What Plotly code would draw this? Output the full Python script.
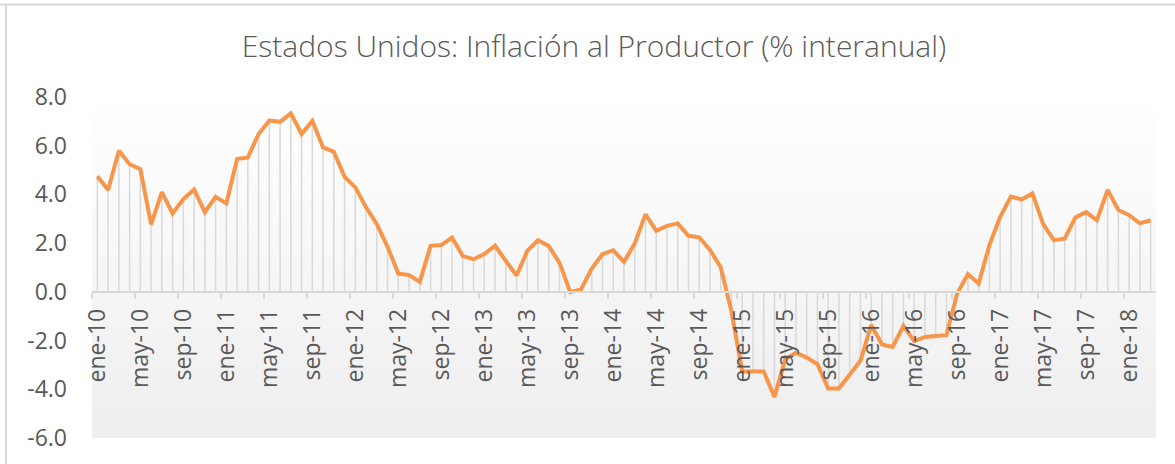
import plotly.graph_objects as go

# Estados Unidos: inflación al productor, % interanual, ene-10 .. mar-18
meses = ["ene", "feb", "mar", "abr", "may", "jun", "jul", "ago", "sep", "oct", "nov", "dic"]
anios = ["10", "11", "12", "13", "14", "15", "16", "17", "18"]

ipp = [
    4.75, 4.18, 5.79, 5.24, 5.04, 2.77, 4.09, 3.22, 3.81, 4.20, 3.27, 3.90,
    3.63, 5.45, 5.52, 6.48, 7.03, 6.98, 7.33, 6.48, 7.02, 5.93, 5.75, 4.72,
    4.29, 3.47, 2.78, 1.85, 0.75, 0.69, 0.41, 1.89, 1.92, 2.23, 1.47, 1.34,
    1.55, 1.90, 1.27, 0.67, 1.68, 2.12, 1.88, 1.19, -0.01, 0.10, 0.96, 1.55,
    1.71, 1.23, 1.99, 3.18, 2.51, 2.71, 2.81, 2.30, 2.24, 1.72, 1.01, -0.80,
    -3.27, -3.27, -3.27, -4.32, -2.77, -2.50, -2.70, -2.97, -3.97, -3.97, -3.42, -2.83,
    -1.36, -2.16, -2.26, -1.40, -2.02, -1.85, -1.81, -1.78, -0.07, 0.73, 0.34, 1.92,
    3.08, 3.91, 3.79, 4.04, 2.78, 2.12, 2.18, 3.05, 3.27, 2.94, 4.18, 3.36,
    3.15, 2.81, 2.94,
]

y_ticks = [-6, -4, -2, 0, 2, 4, 6, 8]
y_labels = ["-6.0", "-4.0", "-2.0", "0.0", "2.0", "4.0", "6.0", "8.0"]

fechas = [m + "-" + a for a in anios for m in meses][:len(ipp)]
x = list(range(len(ipp)))
x_ticks = x[::4]
x_labels = fechas[::4]

W, H = 1175, 464
L, R, T, B = 92, 19, 97, 26
GRIS = "#d9d9d9"
TEXTO = "#595959"
NARANJA = "#f7964a"
FUENTE = "Open Sans"

fig = go.Figure()

# fondo degradado del area de trazado
x0, x1 = -0.5, len(ipp) - 0.5
fig.add_trace(go.Scatter(x=[x0, x1, x1, x0, x0], y=[y_ticks[0], y_ticks[0], y_ticks[-1], y_ticks[-1], y_ticks[0]],
                         mode="lines", line=dict(width=0), fill="toself",
                         fillgradient=dict(type="vertical", colorscale=[[0, "#eeeeee"], [1, "#ffffff"]]),
                         hoverinfo="skip"))

# lineas de caida hasta el cero
dx, dy = [], []
for i, v in zip(x, ipp):
    dx += [i, i, None]
    dy += [0, v, None]
fig.add_trace(go.Scatter(x=dx, y=dy, mode="lines", line=dict(color=GRIS, width=1.5),
                         hoverinfo="skip"))

fig.add_trace(go.Scatter(x=x, y=ipp, mode="lines", line=dict(color=NARANJA, width=4),
                         text=fechas, name="IPP"))

pw = W - L - R
ph = H - T - B
fig.update_layout(
    width=W, height=H,
    margin=dict(l=L, r=R, t=T, b=B, pad=0),
    paper_bgcolor="white", plot_bgcolor="white",
    showlegend=False,
    font=dict(family=FUENTE, color=TEXTO),
    title=dict(text="Estados Unidos: Inflación al Productor (% interanual)",
               font=dict(family=FUENTE, size=30, color=TEXTO, weight=300),
               xref="container", yref="container", x=594 / W, y=1 - 46 / H,
               xanchor="center", yanchor="middle"),
    xaxis=dict(range=[x0, x1], anchor="free",
               position=(0 - y_ticks[0]) / (y_ticks[-1] - y_ticks[0]),
               showgrid=False, zeroline=False,
               showline=True, linecolor=GRIS, linewidth=1.5,
               tickmode="array", tickvals=x_ticks, ticktext=x_labels,
               ticks="", tickangle=-90, tickfont=dict(size=23, color=TEXTO),
               ticklabelstandoff=7,
               minor=dict(tickmode="array", tickvals=[t - 0.5 for t in x_ticks],
                          ticks="outside", ticklen=6, tickcolor=GRIS, tickwidth=1.5)),
    yaxis=dict(range=[y_ticks[0], y_ticks[-1]], showgrid=False, zeroline=False, showline=False,
               tickmode="array", tickvals=y_ticks, ticktext=y_labels, ticks="",
               tickfont=dict(size=23, color=TEXTO), ticklabelstandoff=24),
    shapes=[
        dict(type="line", xref="paper", yref="paper", x0=-L / pw, x1=1 + R / pw,
             y0=1 + (T - 4.5) / ph, y1=1 + (T - 4.5) / ph, line=dict(color=GRIS, width=2)),
        dict(type="line", xref="paper", yref="paper", x0=-(L - 6) / pw, x1=-(L - 6) / pw,
             y0=-B / ph, y1=1 + (T - 4.5) / ph, line=dict(color=GRIS, width=2)),
    ],
)

fig.write_html("out.html", config={"displayModeBar": False},
               post_script="document.body.style.margin='0px';")
